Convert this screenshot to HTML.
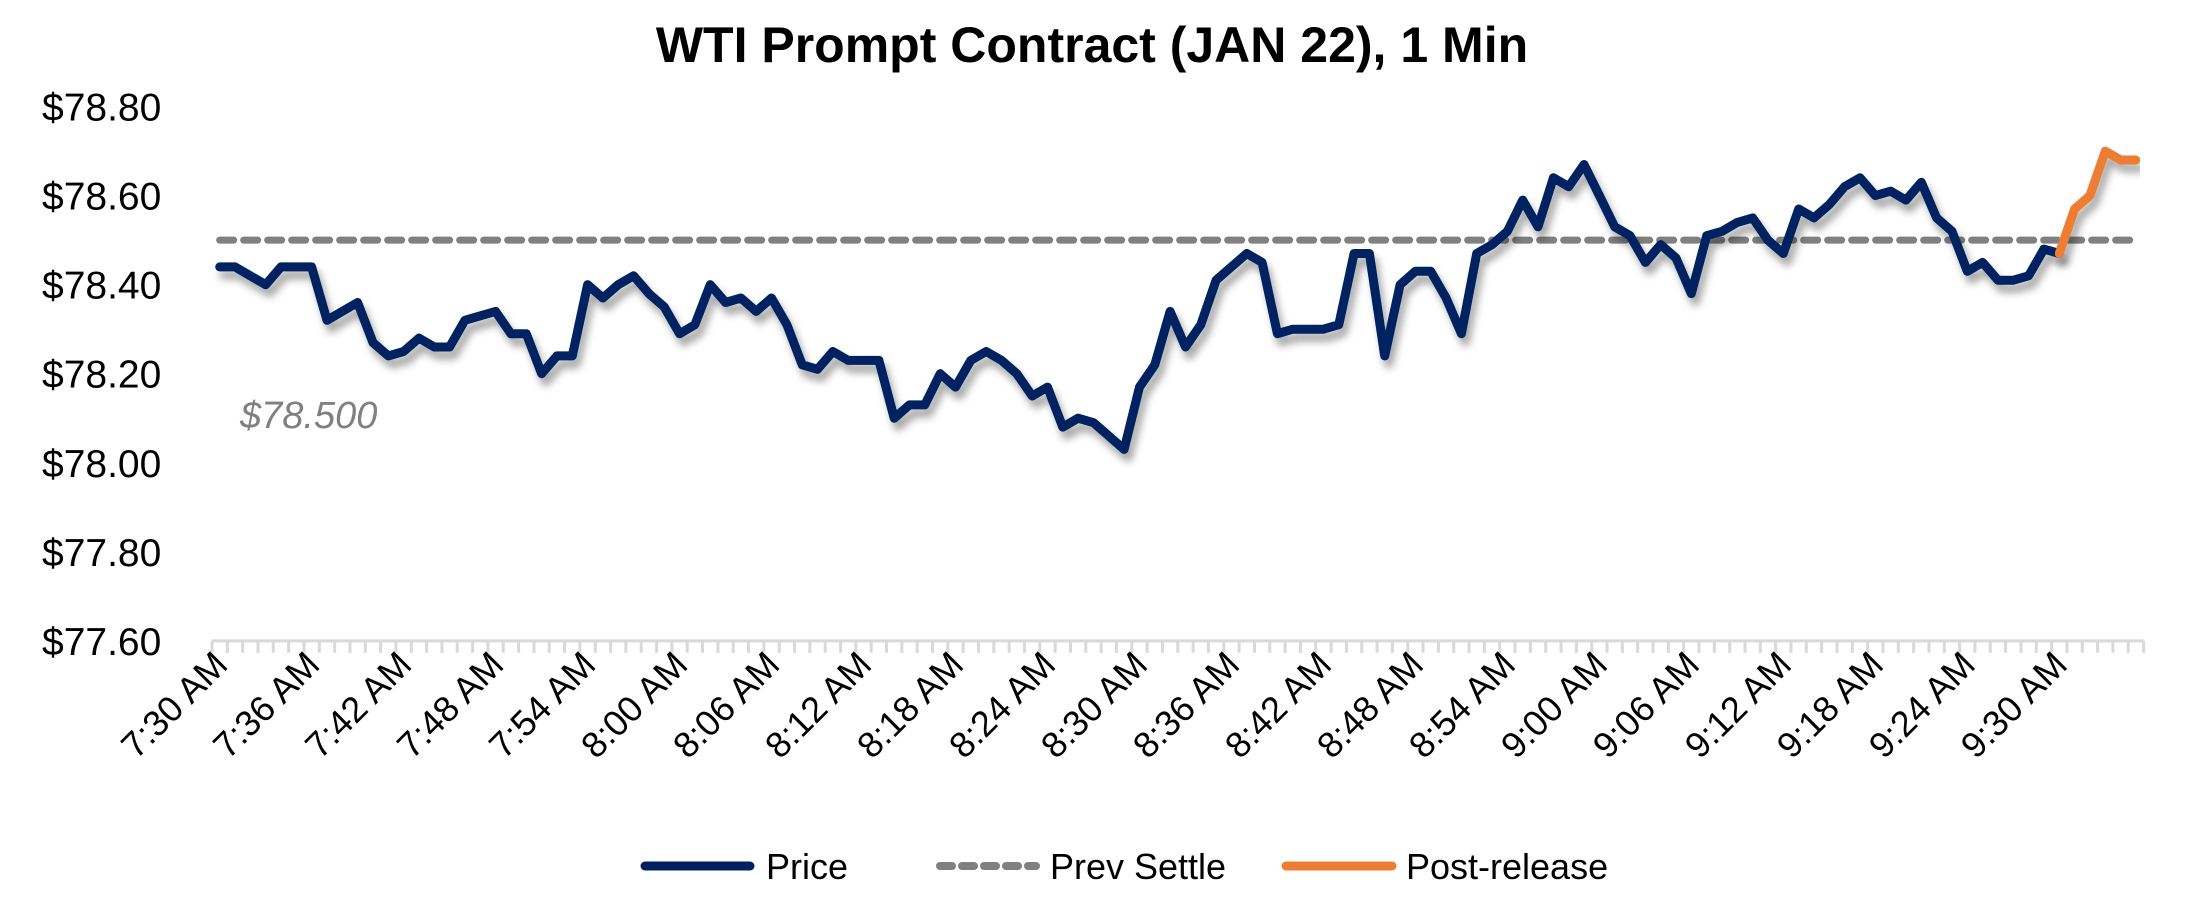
<!DOCTYPE html>
<html><head><meta charset="utf-8"><style>
html,body{margin:0;padding:0;background:#fff;}
svg{display:block;font-family:"Liberation Sans",sans-serif;}
</style></head><body>
<svg id="c" width="2196" height="900" viewBox="0 0 2196 900" xmlns="http://www.w3.org/2000/svg">
<defs>
<filter id="sh" x="-5%" y="-20%" width="110%" height="140%">
<feDropShadow dx="4" dy="8" stdDeviation="4" flood-color="#000" flood-opacity="0.35"/>
</filter>
</defs>
<text x="1092" y="62" text-anchor="middle" font-size="50" font-weight="bold" fill="#000">WTI Prompt Contract (JAN 22), 1 Min</text>
<g id="yl" font-size="39" fill="#000" text-anchor="start"></g>
<g id="ax"></g>
<g id="xl" font-size="36" fill="#000"></g>
<text x="240" y="428" font-size="38" font-style="italic" fill="#808080">$78.500</text>
<g id="lines"></g>
<g font-size="36" fill="#000">
<line x1="645" y1="866" x2="750" y2="866" stroke="#002060" stroke-width="9" stroke-linecap="round"/>
<text x="766" y="879">Price</text>
<line x1="940" y1="866" x2="1036" y2="866" stroke="#808080" stroke-width="8" stroke-dasharray="12 10" stroke-linecap="round"/>
<text x="1050" y="879">Prev Settle</text>
<line x1="1286" y1="866" x2="1392" y2="866" stroke="#ED7D31" stroke-width="9" stroke-linecap="round"/>
<text x="1406" y="879">Post-release</text>
</g>
</svg>
<script>
var NS="http://www.w3.org/2000/svg";
function el(t,a,p,txt){var e=document.createElementNS(NS,t);for(var k in a)e.setAttribute(k,a[k]);if(txt!==undefined)e.textContent=txt;p.appendChild(e);return e;}
var y0=106.6,pp=445.2;
function Y(v){return y0+(78.80-v)*pp;}
var x0=212,dx=15.33;
function X(i){return x0+dx*(i+0.5);}
var yl=document.getElementById('yl');
var labs=["$78.80","$78.60","$78.40","$78.20","$78.00","$77.80","$77.60"];
for(var i=0;i<7;i++){el('text',{x:42,y:Y(78.8-0.2*i)+14},yl,labs[i]);}
var ax=document.getElementById('ax');
var n=126;
el('line',{x1:x0,y1:Y(77.6),x2:x0+dx*n,y2:Y(77.6),stroke:'#d9d9d9','stroke-width':3},ax);
for(var i=0;i<=n;i++){el('line',{x1:x0+dx*i,y1:Y(77.6),x2:x0+dx*i,y2:Y(77.6)+12,stroke:'#d9d9d9','stroke-width':3},ax);}
var xl=document.getElementById('xl');
for(var m=0;m<=120;m+=6){var t=450+m;var h=Math.floor(t/60),mm=t%60;var s=h+":"+(mm<10?"0":"")+mm+" AM";
var x=X(m)+10,y=Y(77.6)+26;
el('text',{x:x,y:y,'text-anchor':'end',transform:'rotate(-45 '+x+' '+y+')'},xl,s);}
var d=[78.44,78.44,78.42,78.40,78.44,78.44,78.44,78.32,78.34,78.36,78.27,78.24,78.25,78.28,78.26,78.26,78.32,78.33,78.34,78.29,78.29,78.20,78.24,78.24,78.40,78.37,78.40,78.42,78.38,78.35,78.29,78.31,78.40,78.36,78.37,78.34,78.37,78.31,78.22,78.21,78.25,78.23,78.23,78.23,78.10,78.13,78.13,78.20,78.17,78.23,78.25,78.23,78.20,78.15,78.17,78.08,78.10,78.09,78.06,78.03,78.17,78.22,78.34,78.26,78.31,78.41,78.44,78.47,78.45,78.29,78.30,78.30,78.30,78.31,78.47,78.47,78.24,78.40,78.43,78.43,78.37,78.29,78.47,78.49,78.52,78.59,78.53,78.64,78.62,78.67,78.60,78.53,78.51,78.45,78.49,78.46,78.38,78.51,78.52,78.54,78.55,78.50,78.47,78.57,78.55,78.58,78.62,78.64,78.60,78.61,78.59,78.63,78.55,78.52,78.43,78.45,78.41,78.41,78.42,78.48,78.47];
var o=[78.47,78.57,78.60,78.70,78.68,78.68];
var L=document.getElementById('lines');
el('line',{x1:X(0),y1:Y(78.5),x2:X(125),y2:Y(78.5),stroke:'#808080','stroke-width':7,'stroke-dasharray':'14 10','stroke-linecap':'round'},L);
var p=d.map(function(v,i){return X(i).toFixed(1)+","+Y(v).toFixed(1);}).join(" ");
el('polyline',{points:p,fill:'none',stroke:'#002060','stroke-width':9,'stroke-linejoin':'round','stroke-linecap':'round',filter:'url(#sh)'},L);
var q=o.map(function(v,i){return X(120+i).toFixed(1)+","+Y(v).toFixed(1);}).join(" ");
el('polyline',{points:q,fill:'none',stroke:'#ED7D31','stroke-width':9,'stroke-linejoin':'round','stroke-linecap':'round',filter:'url(#sh)'},L);
</script>
</body></html>
